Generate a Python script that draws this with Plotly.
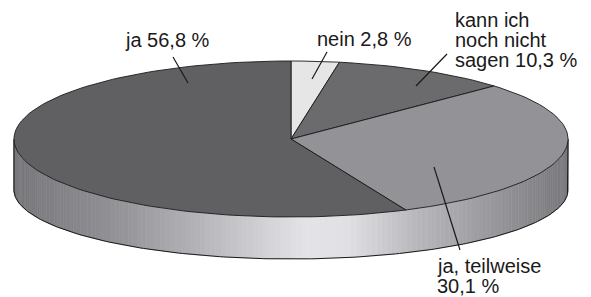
import numpy as np
import plotly.graph_objects as go

# ---- data ----
labels = ["nein", "kann ich noch nicht sagen", "ja, teilweise", "ja"]
values = [2.8, 10.3, 30.1, 56.8]
label_texts = [["nein 2,8 %"], ["kann ich", "noch nicht", "sagen 10,3 %"],
               ["ja, teilweise", "30,1 %"], ["ja 56,8 %"]]
colors = ["#e6e6e6", "#6b6b6d", "#939397", "#606062"]

# ---- geometry (pixel space) ----
W, H = 591, 297
cx, cy, rx, ry = 291, 139, 277, 78
cyb, ryb = 190, 69
edge = "#1a1a1a"

def top_pt(th):
    return cx + rx * np.sin(th), cy - ry * np.cos(th)

def bot_pt(th):
    return cx + rx * np.sin(th), cyb - ryb * np.cos(th)

fig = go.Figure()

# side shading
def shade(u):
    pu = [-1.0, -0.6, -0.3, 0.05, 0.2, 0.45, 0.75, 1.0]
    pv = [118, 150, 185, 228, 225, 185, 150, 120]
    return float(np.interp(u, pu, pv))

n = 160
ths = np.linspace(np.pi / 2, 3 * np.pi / 2, n + 1)
for i in range(n):
    a, b = ths[i], ths[i + 1]
    x1, y1 = top_pt(a); x2, y2 = top_pt(b)
    x3, y3 = bot_pt(b); x4, y4 = bot_pt(a)
    v = shade(np.sin((a + b) / 2))
    c = f"rgb({int(v)},{int(v)},{int(min(255, v + 4))})"
    fig.add_trace(go.Scatter(x=[x1, x2, x3, x4, x1], y=[y1, y2, y3, y4, y1],
                             mode="lines", fill="toself", fillcolor=c,
                             line=dict(color=c, width=0.6), hoverinfo="skip",
                             showlegend=False))

# side outline: bottom arc + vertical edges
tb = np.linspace(np.pi / 2, 3 * np.pi / 2, 200)
bx, by = bot_pt(tb)
rxe, rye = top_pt(np.pi / 2)
lxe, lye = top_pt(3 * np.pi / 2)
fig.add_trace(go.Scatter(x=[rxe] + list(bx) + [lxe], y=[rye] + list(by) + [lye],
                         mode="lines", line=dict(color=edge, width=1),
                         hoverinfo="skip", showlegend=False))

# top slices
cum = np.concatenate([[0], np.cumsum(values)]) / sum(values) * 2 * np.pi
for i, v in enumerate(values):
    t = np.linspace(cum[i], cum[i + 1], max(3, int(200 * v / 100)))
    px, py = top_pt(t)
    xs = [cx] + list(px) + [cx]
    ys = [cy] + list(py) + [cy]
    fig.add_trace(go.Scatter(x=xs, y=ys, mode="lines", fill="toself",
                             fillcolor=colors[i], line=dict(color=edge, width=0.9),
                             hoverinfo="skip", showlegend=False, name=labels[i]))

# labels (left x, first baseline) and leader lines
label_pos = [(317, 46), (455, 27), (437, 273), (125, 47)]
leaders = [((327, 52), (312, 79)), ((447, 54), (416, 86)),
           ((434, 167), (460, 250)), ((173, 57), (188, 83))]
fs = 20
for i, lines in enumerate(label_texts):
    lx, by0 = label_pos[i]
    for j, s in enumerate(lines):
        fig.add_annotation(x=lx - 2, y=by0 + 20 * j - 7, text=s, showarrow=False,
                           xref="x", yref="y", xanchor="left", yanchor="middle",
                           font=dict(family="Liberation Sans, Arial", size=fs, color="#1a1a1a"))
    (x0, y0), (x1, y1) = leaders[i]
    fig.add_shape(type="line", x0=x0, y0=y0, x1=x1, y1=y1, xref="x", yref="y",
                  line=dict(color=edge, width=1.2))

fig.update_layout(width=W, height=H, margin=dict(l=0, r=0, t=0, b=0),
                  paper_bgcolor="white", plot_bgcolor="white",
                  xaxis=dict(range=[0, W], visible=False, fixedrange=True),
                  yaxis=dict(range=[H, 0], visible=False, fixedrange=True),
                  showlegend=False)
fig.write_html("out.html", config={"displayModeBar": False},
               post_script="document.body.style.margin='0';document.body.style.overflow='hidden';")
